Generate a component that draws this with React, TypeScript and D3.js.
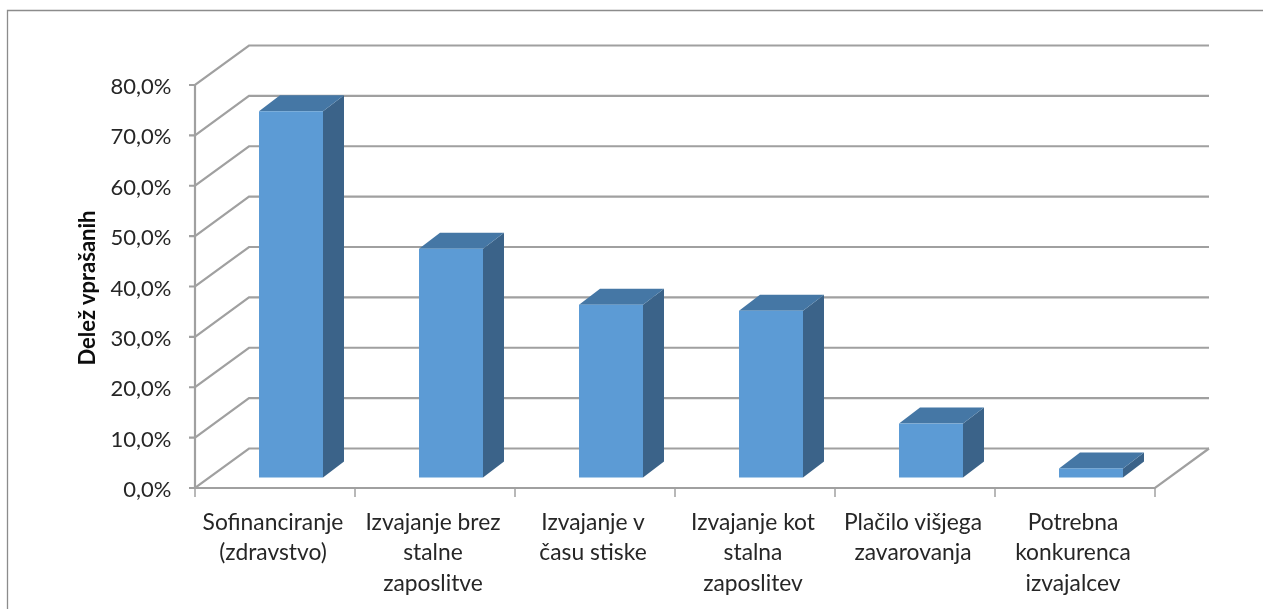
import React from "react";
import * as d3 from "d3";

const categories: string[][] = [
  ["Sofinanciranje", "(zdravstvo)"],
  ["Izvajanje brez", "stalne", "zaposlitve"],
  ["Izvajanje v", "času stiske"],
  ["Izvajanje kot", "stalna", "zaposlitev"],
  ["Plačilo višjega", "zavarovanja"],
  ["Potrebna", "konkurenca", "izvajalcev"],
];
const values = [72.7, 45.4, 34.3, 33.1, 10.7, 1.8];
const ticks = [0, 10, 20, 30, 40, 50, 60, 70, 80];
const axisTitle = "Delež vprašanih";

const FONT = "Lato, Carlito, 'Open Sans', sans-serif";
const GRID = "#a0a0a0";
const TEXT = "#262626";

export default function App() {
  const idx = d3.range(categories.length);
  const x = d3.scaleBand<number>().domain(idx).range([195, 1155]);
  const y = d3.scaleLinear().domain([0, 80]).range([488, 85]);
  const depth = { dx: 54, dy: -39.5 };
  const barDepth = { dx: 21, dy: -16 };
  const barH = (v: number) => y(0) - y(v);
  const barBase = 477.5;
  const barW = 64;
  const fmt = (v: number) => v.toFixed(1).replace(".", ",") + "%";
  return (
    <svg width={1263} height={609} style={{ position: "absolute", left: 0, top: 0, background: "#fff" }} fontFamily={FONT}>
      <defs>
        <filter id="soft" x="-5%" y="-5%" width="110%" height="110%">
          <feGaussianBlur stdDeviation="0.45" />
        </filter>
      </defs>
      <g filter="url(#soft)">
        <path d="M1263,10.5H7.5V609" fill="none" stroke="#8c8c8c" strokeWidth={1.3} />
        {ticks.map((t) => (
          <g key={t}>
            <path
              d={`M189,${y(t)}H195L${195 + depth.dx},${y(t) + depth.dy}H${x(5)! + x.bandwidth() + depth.dx}`}
              fill="none"
              stroke={GRID}
              strokeWidth={2.2}
            />
            <text x={171.5} y={y(t) + 9} textAnchor="end" fontSize={22} fill={TEXT}>
              {fmt(t)}
            </text>
          </g>
        ))}
        <path d={`M195,${y(80)}V${y(0)}H1155L${1155 + depth.dx},${y(0) + depth.dy}`} fill="none" stroke={GRID} strokeWidth={2.2} />
        {idx.concat([6]).map((i) => {
          const px = i === 6 ? 1155 : x(i)!;
          return <line key={i} x1={px} x2={px} y1={y(0)} y2={y(0) + 9} stroke={GRID} strokeWidth={1.5} />;
        })}
        {values.map((v, i) => {
          const x0 = x(i)! + 64;
          const x1 = x0 + barW;
          const top = barBase - barH(v);
          const { dx, dy } = barDepth;
          return (
            <g key={i}>
              <path d={`M${x1},${top}L${x1 + dx},${top + dy}V${barBase + dy}L${x1},${barBase}Z`} fill="#3b6489" />
              <path d={`M${x0},${top}L${x0 + dx},${top + dy}H${x1 + dx}L${x1},${top}Z`} fill="#4577a5" />
              <rect x={x0} y={top} width={barW} height={barH(v)} fill="#5b9bd5" />
            </g>
          );
        })}
        {categories.map((lines, i) => (
          <text key={i} textAnchor="middle" fontSize={22.8} fill={TEXT}>
            {lines.map((l, j) => (
              <tspan key={j} x={x(i)! + x.bandwidth() / 2 - 2} y={529.5 + j * 30.5}>
                {l}
              </tspan>
            ))}
          </text>
        ))}
        <text transform="translate(95,288) rotate(-90)" textAnchor="middle" fontSize={22} fontWeight={700} fill="#111">
          {axisTitle}
        </text>
      </g>
    </svg>
  );
}
